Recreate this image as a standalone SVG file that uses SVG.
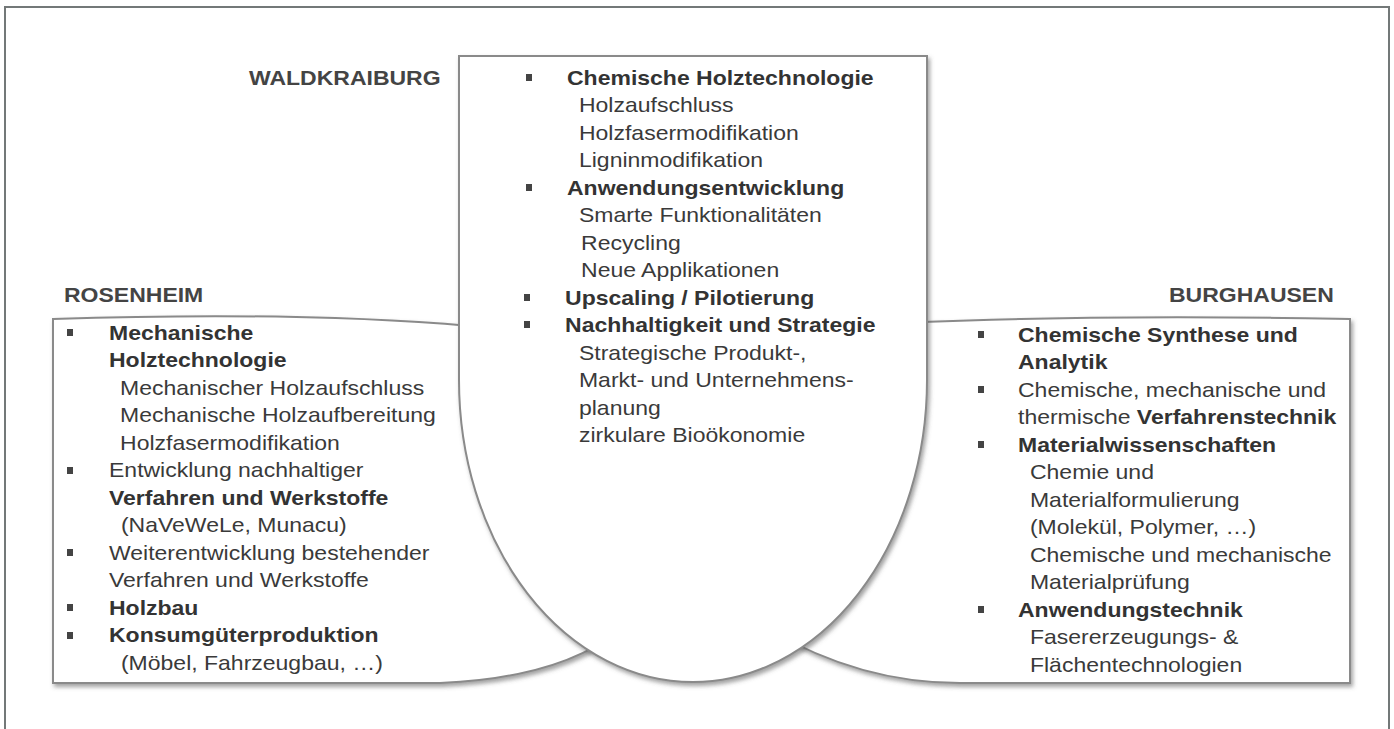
<svg xmlns="http://www.w3.org/2000/svg" width="1394" height="729" viewBox="0 0 1394 729">
<style>
.t{font-family:"Liberation Sans",Arial,sans-serif;font-size:20px;fill:#3a3a3a}
.b{font-weight:bold;fill:#333}
.lbl{font-family:"Liberation Sans",Arial,sans-serif;font-size:20px;font-weight:bold;fill:#444}
.box{fill:#fff;stroke:#8a8a8a;stroke-width:2}
.frame{fill:#fff;stroke:#737878;stroke-width:2}
</style>
<defs>
<filter id="sh" x="-5%" y="-5%" width="115%" height="120%">
<feDropShadow dx="2" dy="3" stdDeviation="2" flood-color="#555" flood-opacity="0.55"/>
</filter>
<rect id="bl" width="6" height="7" fill="#444"/>
</defs>
<rect class="frame" x="5" y="7" width="1384" height="740"/>

<g id="rosenheim-box">
<path class="box" filter="url(#sh)" d="M53,319 Q300,311 470,326 L620,330 L620,630 Q560,678 440,683 H53 Z"/>
</g>
<g id="burghausen-box">
<path class="box" filter="url(#sh)" d="M900,323 Q1100,314 1350,319 V683 H960 Q860,683 770,630 L770,330 Z"/>
</g>
<g id="waldkraiburg-box">
<path class="box" filter="url(#sh)" d="M459,56 H927 V380 A234,302 0 0 1 459,380 Z"/>
</g>

<g id="labels">
<g transform="translate(249,0) scale(1.15,1)"><text class="lbl" x="0" y="85">WALDKRAIBURG</text></g>
<g transform="translate(64,0) scale(1.15,1)"><text class="lbl" x="0" y="302">ROSENHEIM</text></g>
<g transform="translate(1169,0) scale(1.15,1)"><text class="lbl" x="0" y="302">BURGHAUSEN</text></g>
</g>

<g id="waldkraiburg-text">
<use href="#bl" x="526" y="74"/>
<use href="#bl" x="526" y="184"/>
<use href="#bl" x="524" y="294"/>
<use href="#bl" x="524" y="321"/>
<g transform="translate(567,0) scale(1.15,1)">
<text class="t b" x="0" y="85">Chemische Holztechnologie</text>
<text class="t" x="10.4" y="112.5">Holzaufschluss</text>
<text class="t" x="10.4" y="140">Holzfasermodifikation</text>
<text class="t" x="10.4" y="167.5">Ligninmodifikation</text>
<text class="t b" x="0" y="195">Anwendungsentwicklung</text>
<text class="t" x="10.4" y="222.5">Smarte Funktionalitäten</text>
<text class="t" x="12.2" y="250">Recycling</text>
<text class="t" x="12.2" y="277.5">Neue Applikationen</text>
<text class="t b" x="-1.7" y="305">Upscaling / Pilotierung</text>
<text class="t b" x="-1.7" y="332.5">Nachhaltigkeit und Strategie</text>
<text class="t" x="10.4" y="360">Strategische Produkt-,</text>
<text class="t" x="10.4" y="387.5">Markt- und Unternehmens-</text>
<text class="t" x="10.4" y="415">planung</text>
<text class="t" x="10.4" y="442.5">zirkulare Bioökonomie</text>
</g>
</g>

<g id="rosenheim-text">
<use href="#bl" x="67" y="329"/>
<use href="#bl" x="67" y="467"/>
<use href="#bl" x="67" y="549"/>
<use href="#bl" x="67" y="604"/>
<use href="#bl" x="67" y="632"/>
<g transform="translate(109,0) scale(1.15,1)">
<text class="t b" x="0" y="340">Mechanische</text>
<text class="t b" x="0" y="367.5">Holztechnologie</text>
<text class="t" x="9.6" y="395">Mechanischer Holzaufschluss</text>
<text class="t" x="9.6" y="422.5">Mechanische Holzaufbereitung</text>
<text class="t" x="9.6" y="450">Holzfasermodifikation</text>
<text class="t" x="0" y="477.5">Entwicklung nachhaltiger</text>
<text class="t b" x="0" y="505">Verfahren und Werkstoffe</text>
<text class="t" x="10.4" y="532.5">(NaVeWeLe, Munacu)</text>
<text class="t" x="0" y="560">Weiterentwicklung bestehender</text>
<text class="t" x="0" y="587.5">Verfahren und Werkstoffe</text>
<text class="t b" x="0" y="615">Holzbau</text>
<text class="t b" x="0" y="642.5">Konsumgüterproduktion</text>
<text class="t" x="10.4" y="670">(Möbel, Fahrzeugbau, …)</text>
</g>
</g>

<g id="burghausen-text">
<use href="#bl" x="978" y="331"/>
<use href="#bl" x="978" y="386"/>
<use href="#bl" x="978" y="441"/>
<use href="#bl" x="978" y="606"/>
<g transform="translate(1018,0) scale(1.15,1)">
<text class="t b" x="0" y="342">Chemische Synthese und</text>
<text class="t b" x="0" y="369.5">Analytik</text>
<text class="t" x="0" y="397">Chemische, mechanische und</text>
<text class="t" x="0" y="424.5">thermische <tspan class="b">Verfahrenstechnik</tspan></text>
<text class="t b" x="0" y="452">Materialwissenschaften</text>
<text class="t" x="10.4" y="479.5">Chemie und</text>
<text class="t" x="10.4" y="507">Materialformulierung</text>
<text class="t" x="10.4" y="534.5">(Molekül, Polymer, …)</text>
<text class="t" x="10.4" y="562">Chemische und mechanische</text>
<text class="t" x="10.4" y="589.5">Materialprüfung</text>
<text class="t b" x="0" y="617">Anwendungstechnik</text>
<text class="t" x="10.4" y="644.5">Fasererzeugungs- &amp;</text>
<text class="t" x="10.4" y="672">Flächentechnologien</text>
</g>
</g>
</svg>
